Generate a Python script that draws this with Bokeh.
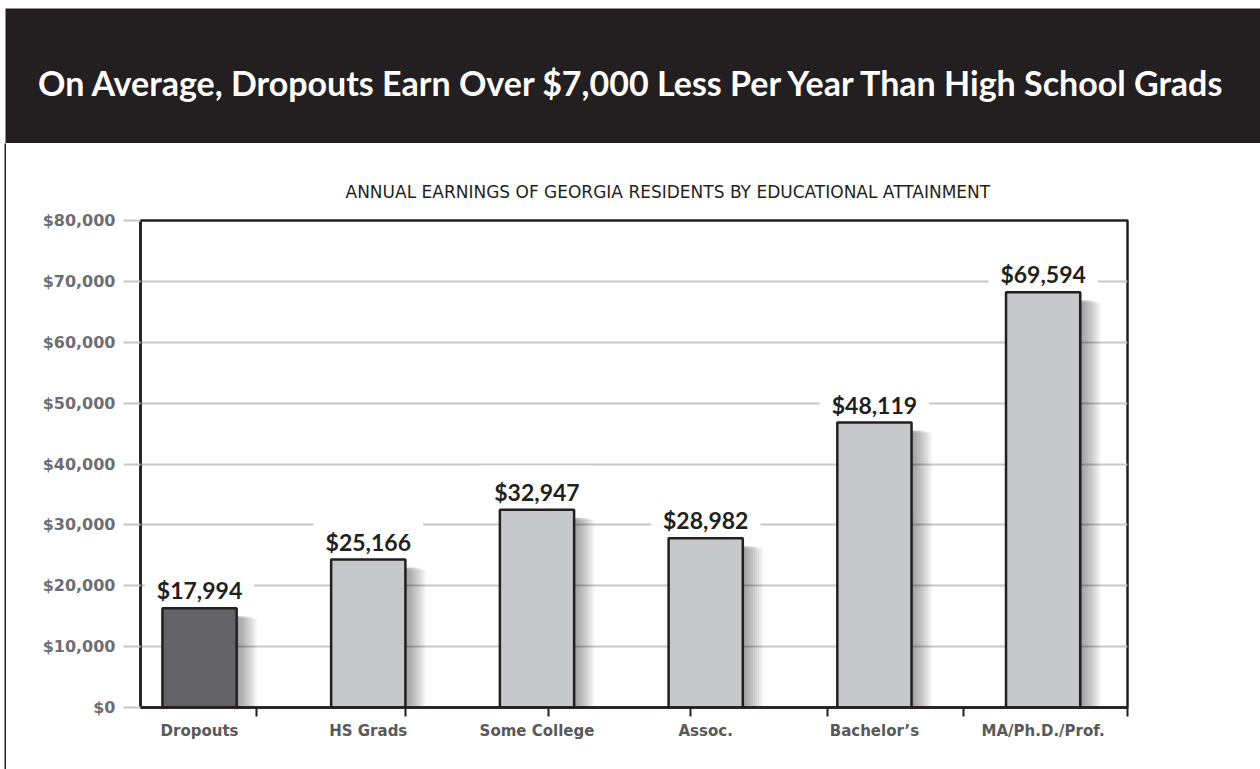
from bokeh.plotting import figure
from bokeh.models import FixedTicker, NumeralTickFormatter, Range1d, ColumnDataSource
from bokeh.layouts import column, row
from bokeh.core.properties import value
from bokeh.embed import file_html
from bokeh.resources import INLINE

title_text = "On Average, Dropouts Earn Over $7,000 Less Per Year Than High School Grads"
subtitle_text = "ANNUAL EARNINGS OF GEORGIA RESIDENTS BY EDUCATIONAL ATTAINMENT"
categories = ["Dropouts", "HS Grads", "Some College", "Assoc.", "Bachelor\u2019s", "MA/Ph.D./Prof."]
earnings_labels = [17994, 25166, 32947, 28982, 48119, 69594]
bar_heights = [16300, 24300, 32500, 27800, 46800, 68200]
bar_colors = ["#636365", "#c7c8ca", "#c7c8ca", "#c7c8ca", "#c7c8ca", "#c7c8ca"]
y_ticks = [0, 10000, 20000, 30000, 40000, 50000, 60000, 70000, 80000]
x_tick_marks = [0.34, 1.22, 2.07, 2.91, 3.72, 4.53, 5.5]

DARK = "#231f20"
BAR_W = 0.44
xs = list(range(len(categories)))

# ---------- header band ----------
head = figure(width=1260, height=143, x_range=(0, 1), y_range=(0, 1),
              toolbar_location=None, output_backend="svg",
              x_axis_location=None, y_axis_location=None,
              min_border_left=5, min_border_right=0, min_border_top=8, min_border_bottom=0,
              background_fill_color=DARK, border_fill_color="white", outline_line_color=None)
head.frame_align = False
head.grid.visible = False
head.text(x=[0.5], y=[0.45], text=[title_text], text_font=value("Lato"),
          text_font_style="bold", text_font_size="34px", text_color="white",
          text_align="center", text_baseline="middle")

# ---------- thin left page border ----------
edge = figure(width=6, height=626, x_range=(0, 1), y_range=(0, 1),
              toolbar_location=None, output_backend="svg",
              x_axis_location=None, y_axis_location=None,
              min_border_left=4, min_border_right=0, min_border_top=0, min_border_bottom=0,
              background_fill_color=DARK, border_fill_color="white", outline_line_color=None)
edge.frame_align = False
edge.grid.visible = False

# ---------- main chart ----------
p = figure(width=1254, height=626, x_range=Range1d(-0.35, 5.5), y_range=Range1d(0, 80000),
           toolbar_location=None, output_backend="svg",
           min_border_left=134, min_border_right=133, min_border_top=77, min_border_bottom=62,
           background_fill_color="white", border_fill_color="white",
           outline_line_color=DARK, outline_line_width=2.5)
p.frame_align = False

p.title.text = subtitle_text
p.title.align = "left"
p.title.offset = 205
p.title.standoff = 38
p.title.text_font = "DejaVu Sans"
p.title.text_font_style = "normal"
p.title.text_font_size = "17px"
p.title.text_color = DARK

# grid
p.xgrid.visible = False
p.ygrid.ticker = FixedTicker(ticks=y_ticks)
p.ygrid.grid_line_color = "#c8c8c8"
p.ygrid.grid_line_width = 2

# y axis
p.yaxis.ticker = FixedTicker(ticks=y_ticks)
p.yaxis.formatter = NumeralTickFormatter(format="$0,0")
p.yaxis.axis_line_color = DARK
p.yaxis.axis_line_width = 2.5
p.yaxis.major_tick_out = 17
p.yaxis.major_tick_in = 0
p.yaxis.major_tick_line_color = "#c8c8c8"
p.yaxis.major_tick_line_width = 2
p.yaxis.minor_tick_line_color = None
p.yaxis.major_label_standoff = 8
p.yaxis.major_label_text_font = "DejaVu Sans"
p.yaxis.major_label_text_font_style = "bold"
p.yaxis.major_label_text_font_size = "16px"
p.yaxis.major_label_text_color = "#6d6e71"

# x axis
p.xaxis.ticker = FixedTicker(ticks=xs, minor_ticks=x_tick_marks)
p.xaxis.major_label_overrides = {i: c for i, c in zip(xs, categories)}
p.xaxis.axis_line_color = DARK
p.xaxis.axis_line_width = 2.5
p.xaxis.major_tick_out = 0
p.xaxis.major_tick_in = 0
p.xaxis.minor_tick_out = 9
p.xaxis.minor_tick_in = 0
p.xaxis.minor_tick_line_color = DARK
p.xaxis.minor_tick_line_width = 2
p.xaxis.major_label_standoff = 5
p.xaxis.major_label_text_font = "DejaVu Sans"
p.xaxis.major_label_text_font_style = "bold"
p.xaxis.major_label_text_font_size = "15px"
p.xaxis.major_label_text_color = "#58595b"

# soft shadows to the right of the bars
for k in range(1, 11):
    p.quad(left=[x + BAR_W / 2 - 0.01 for x in xs],
           right=[x + BAR_W / 2 + 0.012 * k for x in xs],
           top=[h - 400 - 130 * k for h in bar_heights],
           bottom=[0] * len(xs),
           fill_color="black", fill_alpha=0.045, line_color=None)

# value labels (white background cuts grid lines); drawn before bars
src = ColumnDataSource(dict(x=xs, y=bar_heights,
                            t=["${:,}".format(v) for v in earnings_labels]))
p.text(x="x", y="y", text="t", source=src, y_offset=-18,
       text_font=value("Lato"), text_font_style="bold", text_font_size="23px",
       text_color=DARK, text_align="center", text_baseline="alphabetic",
       background_fill_color="white", padding=12)

# bars
p.vbar(x=xs, top=bar_heights, width=BAR_W, bottom=0, fill_color=bar_colors,
       line_color=DARK, line_width=2.5)

layout = column(head, row(edge, p, spacing=0), spacing=0)
open("out.html", "w").write(file_html(layout, INLINE))
